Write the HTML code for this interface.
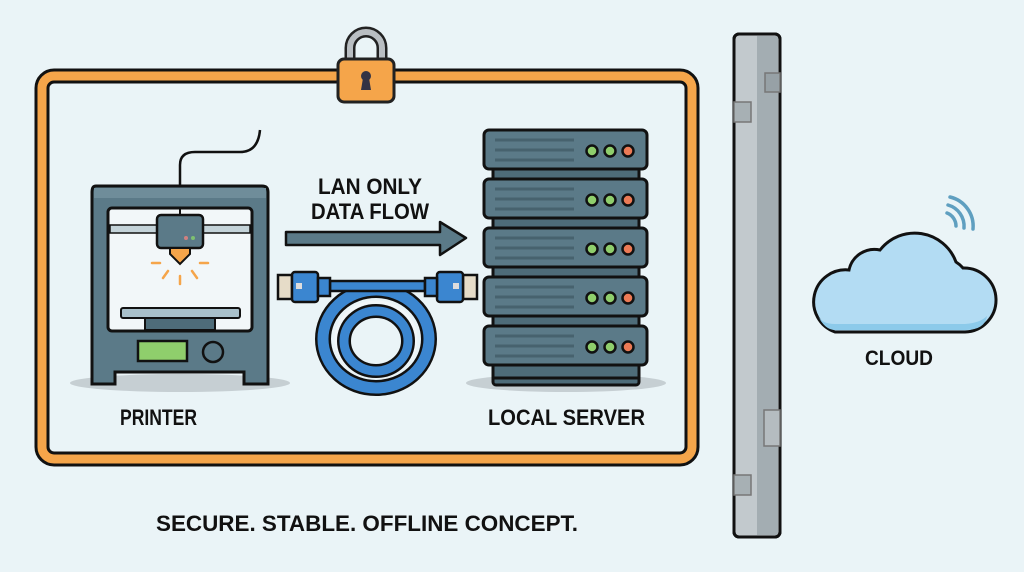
<!DOCTYPE html>
<html><head><meta charset="utf-8"><style>
html,body{margin:0;padding:0;background:#eaf4f7;}
svg{display:block}
text{font-family:"Liberation Sans",sans-serif;font-weight:bold;fill:#111;}
</style></head><body>
<svg width="1024" height="572" viewBox="0 0 1024 572" xmlns="http://www.w3.org/2000/svg">
<rect width="1024" height="572" fill="#eaf4f7"/>
<!-- orange frame -->
<rect x="42" y="76" width="650" height="383" rx="12" fill="none" stroke="#111" stroke-width="15"/>
<rect x="42" y="76" width="650" height="383" rx="12" fill="none" stroke="#f5a54a" stroke-width="9"/>
<!-- lock -->
<path d="M350 60 V48 A16 16 0 0 1 382 48 V60" fill="none" stroke="#222" stroke-width="11"/>
<path d="M350 60 V48 A16 16 0 0 1 382 48 V60" fill="none" stroke="#b9bec2" stroke-width="6"/>
<rect x="338" y="59" width="56" height="43" rx="6" fill="#f5a54a" stroke="#222" stroke-width="3"/>
<circle cx="366" cy="76" r="5" fill="#334"/>
<path d="M363 78 L361 90 H371 L369 78Z" fill="#334"/>
<!-- wall -->
<rect x="734" y="34" width="46" height="503" rx="5" fill="#c2c9cd" stroke="#111" stroke-width="3"/>
<rect x="757" y="36" width="21" height="499" fill="#a3adb2"/>
<rect x="734" y="34" width="46" height="503" rx="5" fill="none" stroke="#111" stroke-width="3"/>
<rect x="765" y="73" width="15" height="19" fill="#97a1a6" stroke="#777" stroke-width="1.5"/>
<rect x="734" y="102" width="17" height="20" fill="#a7b0b4" stroke="#777" stroke-width="1.5"/>
<rect x="764" y="410" width="16" height="36" fill="#b5bcc0" stroke="#777" stroke-width="1.5"/>
<rect x="734" y="475" width="17" height="20" fill="#a7b0b4" stroke="#777" stroke-width="1.5"/>
<!-- cloud -->
<path d="M835 332 H965 A24 24 0 0 0 963 268 A30 30 0 0 0 956 262 A44 44 0 0 0 880 250 A26 26 0 0 0 849 270 A32 32 0 0 0 835 332Z" fill="#b3dcf3" stroke="#111" stroke-width="3"/>
<path d="M818 316 Q825 330 835 330 H965 Q985 330 987 316 Q980 323 965 324 H835 Q822 324 818 316Z" fill="#8ccaea"/>
<path d="M947 213 A14 14 0 0 1 956 226 M948 205 A22 22 0 0 1 964 228 M950 197 A30 30 0 0 1 973 229" fill="none" stroke="#5f9fc0" stroke-width="3.5" stroke-linecap="round"/>
<text x="899" y="365" font-size="21" text-anchor="middle" textLength="68" lengthAdjust="spacingAndGlyphs">CLOUD</text>
<!-- printer -->
<ellipse cx="180" cy="383" rx="110" ry="9" fill="#c6cfd3"/>
<path d="M180 186 V165 Q180 152 195 152 H240 Q258 152 260 130" fill="none" stroke="#111" stroke-width="2.5"/>
<path d="M96 186 H262 Q268 186 268 192 V384 H244 V372 H115 V384 H92 V192 Q92 186 96 186Z" fill="#5b7a88" stroke="#111" stroke-width="3"/>
<rect x="94" y="188" width="172" height="10" fill="#6f8d9a"/>
<rect x="108" y="208" width="144" height="123" rx="4" fill="#f2f7f9" stroke="#111" stroke-width="3"/>
<rect x="110" y="225" width="140" height="8" fill="#c4d3d9" stroke="#111" stroke-width="1.5"/>
<line x1="180" y1="208" x2="180" y2="216" stroke="#111" stroke-width="2"/>
<rect x="157" y="215" width="46" height="33" rx="4" fill="#5b7a88" stroke="#111" stroke-width="2.5"/>
<circle cx="186" cy="238" r="2" fill="#d08080"/><circle cx="193" cy="238" r="2" fill="#7ec070"/>
<path d="M170 248 H190 V254 L180 264 L170 254Z" fill="#f5a54a" stroke="#111" stroke-width="2"/>
<g stroke="#f5a54a" stroke-width="2.5" stroke-linecap="round">
<line x1="152" y1="263" x2="160" y2="263"/><line x1="200" y1="263" x2="208" y2="263"/>
<line x1="163" y1="278" x2="168" y2="271"/><line x1="197" y1="278" x2="192" y2="271"/><line x1="180" y1="276" x2="180" y2="284"/></g>
<rect x="121" y="308" width="119" height="10" rx="2" fill="#a9c0ca" stroke="#111" stroke-width="2"/>
<rect x="145" y="318" width="70" height="12" fill="#4e6c79" stroke="#111" stroke-width="2"/>
<rect x="138" y="341" width="49" height="20" fill="#8fce6c" stroke="#111" stroke-width="2.5"/>
<circle cx="213" cy="352" r="10" fill="#5b7a88" stroke="#111" stroke-width="2.5"/>
<text x="120" y="425" font-size="22" textLength="77" lengthAdjust="spacingAndGlyphs">PRINTER</text>
<!-- arrow -->
<path d="M286 232 H440 V222 L466 238 L440 255 V245 H286Z" fill="#5b7a88" stroke="#111" stroke-width="2.5" stroke-linejoin="round"/>
<text x="370" y="194" font-size="22" text-anchor="middle" textLength="104" lengthAdjust="spacingAndGlyphs">LAN ONLY</text>
<text x="370" y="219" font-size="22" text-anchor="middle" textLength="118" lengthAdjust="spacingAndGlyphs">DATA FLOW</text>
<!-- cable -->
<ellipse cx="376" cy="339" rx="53" ry="49" fill="none" stroke="#111" stroke-width="16"/>
<ellipse cx="376" cy="339" rx="53" ry="49" fill="none" stroke="#3b86d0" stroke-width="11"/>
<ellipse cx="376" cy="339" rx="40" ry="37" fill="none" stroke="#f2f7f9" stroke-width="3"/>
<ellipse cx="376" cy="341" rx="32" ry="30" fill="none" stroke="#111" stroke-width="14"/>
<ellipse cx="376" cy="341" rx="32" ry="30" fill="none" stroke="#3b86d0" stroke-width="9"/>
<rect x="330" y="281" width="95" height="10" fill="#3b86d0" stroke="#111" stroke-width="2.5"/>
<g stroke="#111" stroke-width="2.5">
<rect x="278" y="275" width="14" height="24" fill="#e6dcc8"/><rect x="292" y="272" width="26" height="30" rx="3" fill="#3b86d0"/><rect x="318" y="278" width="12" height="18" fill="#3b86d0"/>
<rect x="463" y="275" width="14" height="24" fill="#e6dcc8"/><rect x="437" y="272" width="26" height="30" rx="3" fill="#3b86d0"/><rect x="425" y="278" width="12" height="18" fill="#3b86d0"/>
</g>
<rect x="296" y="283" width="6" height="6" fill="#ddd"/><rect x="453" y="283" width="6" height="6" fill="#ddd"/>
<!-- server -->
<ellipse cx="566" cy="383" rx="100" ry="9" fill="#c6cfd3"/>
<rect x="493" y="360" width="146" height="25" rx="3" fill="#4e6c79" stroke="#111" stroke-width="3"/>
<g id="u">
<rect x="493" y="160" width="146" height="22" fill="#4e6c79" stroke="#111" stroke-width="3"/>
<rect x="484" y="130" width="163" height="39" rx="5" fill="#5b7a88" stroke="#111" stroke-width="3"/>
<g stroke="#47626e" stroke-width="3"><line x1="495" y1="140" x2="574" y2="140"/><line x1="495" y1="150" x2="574" y2="150"/><line x1="495" y1="160" x2="574" y2="160"/></g>
<circle cx="592" cy="151" r="5.5" fill="#8fce6c" stroke="#111" stroke-width="2.5"/>
<circle cx="610" cy="151" r="5.5" fill="#8fce6c" stroke="#111" stroke-width="2.5"/>
<circle cx="628" cy="151" r="5.5" fill="#ec7a55" stroke="#111" stroke-width="2.5"/>
</g>
<use href="#u" y="49"/><use href="#u" y="98"/><use href="#u" y="147"/><use href="#u" y="196"/>
<text x="488" y="425" font-size="22" textLength="157" lengthAdjust="spacingAndGlyphs">LOCAL SERVER</text>
<!-- footer -->
<text x="156" y="531" font-size="22" textLength="422" lengthAdjust="spacingAndGlyphs">SECURE. STABLE. OFFLINE CONCEPT.</text>
</svg>
</body></html>
